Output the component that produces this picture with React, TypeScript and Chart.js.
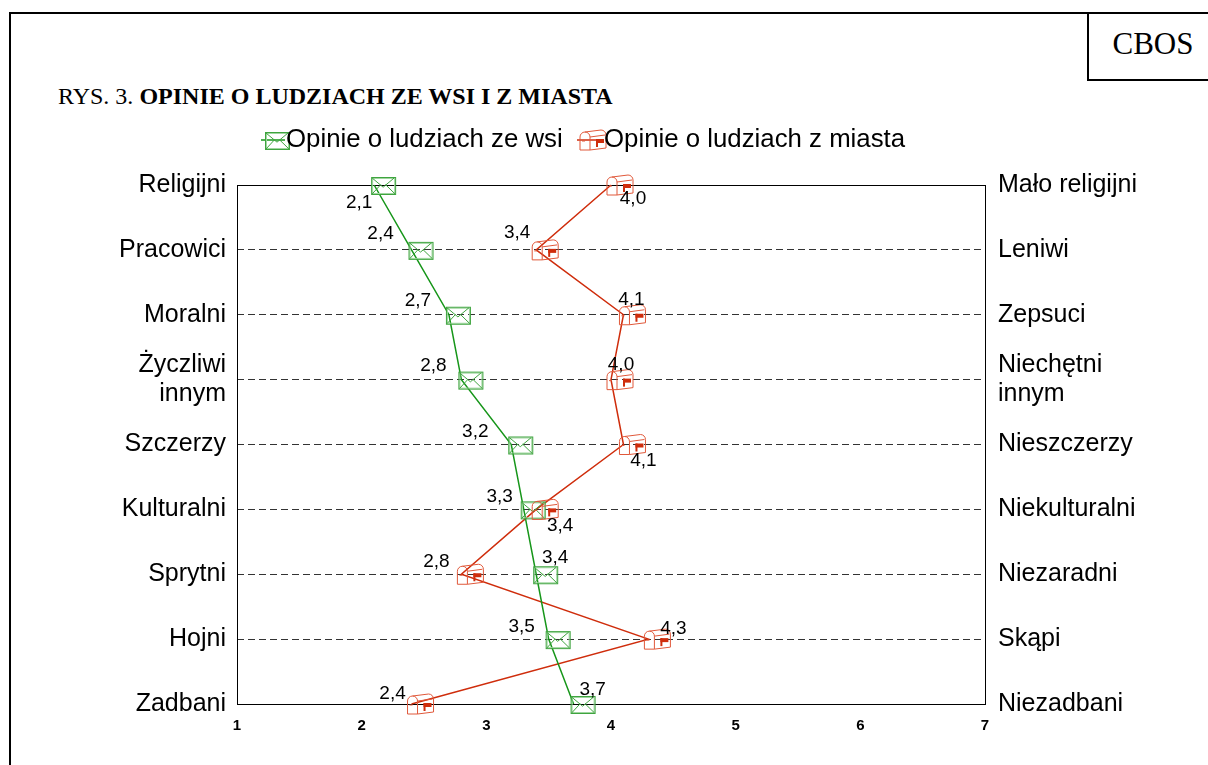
import React, { useEffect, useRef } from 'react';
import { Chart, registerables } from 'chart.js';

Chart.register(...registerables);

// ---- data ----
const leftLabels: (string | string[])[] = ['Religijni', 'Pracowici', 'Moralni', ['Życzliwi', 'innym'], 'Szczerzy', 'Kulturalni', 'Sprytni', 'Hojni', 'Zadbani'];
const rightLabels: (string | string[])[] = ['Mało religijni', 'Leniwi', 'Zepsuci', ['Niechętni', 'innym'], 'Nieszczerzy', 'Niekulturalni', 'Niezaradni', 'Skąpi', 'Niezadbani'];
const villageValues = [2.1, 2.4, 2.7, 2.8, 3.2, 3.3, 3.4, 3.5, 3.7];
const cityValues = [4.0, 3.4, 4.1, 4.0, 4.1, 3.4, 2.8, 4.3, 2.4];
const xTicks = [1, 2, 3, 4, 5, 6, 7];
const seriesNames = ['Opinie o ludziach ze wsi', 'Opinie o ludziach z miasta'];
const titlePrefix = 'RYS. 3. ';
const titleMain = 'OPINIE O LUDZIACH ZE WSI I Z MIASTA';
const brand = 'CBOS';

// label placement (text centre relative to the point)
const villageLabelOffsets = [[-15, 18], [-31, -16], [-31, -14], [-28, -14], [-36, -13], [-24, -13], [19, -16], [-27, -12], [19, -14]];
const cityLabelOffsets = [[22, 14], [-19, -17], [8, -15], [10, -15], [20, 16], [24, 16], [-25, -12], [25, -10], [-19, -10]];

const GREEN = '#17961a';
const GREEN_MARK = '#3fa43f';
const GREEN_LIGHT = '#9fd69f';
const RED = '#cf2d0c';
const RED_MARK = '#e0583a';
const SANS = '"Liberation Sans", Arial, sans-serif';

function drawEnvelope(ctx: CanvasRenderingContext2D, x: number, y: number) {
  const l = x - 3, t = y - 8, w = 24, h = 17;
  ctx.save();
  ctx.lineWidth = 1;
  ctx.strokeStyle = GREEN_LIGHT;
  ctx.strokeRect(l + 1.5, t + 1.5, w - 2, h - 2);
  ctx.strokeStyle = GREEN_MARK;
  ctx.strokeRect(l + 0.5, t + 0.5, w, h);
  ctx.beginPath();
  ctx.moveTo(l + 1, t + 1);
  ctx.lineTo(l + w / 2, t + h * 0.6);
  ctx.lineTo(l + w - 1, t + 1);
  ctx.moveTo(l + 1, t + h);
  ctx.lineTo(l + w * 0.4, t + h * 0.45);
  ctx.moveTo(l + w, t + h);
  ctx.lineTo(l + w * 0.6, t + h * 0.45);
  ctx.stroke();
  ctx.restore();
}

function drawMailbox(ctx: CanvasRenderingContext2D, x: number, y: number) {
  ctx.save();
  ctx.lineWidth = 1;
  ctx.strokeStyle = RED_MARK;
  ctx.beginPath();
  // front face
  ctx.moveTo(x - 4, y + 10);
  ctx.lineTo(x - 4, y - 3);
  ctx.arc(x + 1, y - 3, 5, Math.PI, 0);
  ctx.lineTo(x + 6, y + 10);
  ctx.closePath();
  // body
  ctx.moveTo(x + 1, y - 8);
  ctx.lineTo(x + 17, y - 10);
  ctx.arc(x + 17, y - 5, 5, -Math.PI / 2, 0);
  ctx.lineTo(x + 22, y + 8);
  ctx.lineTo(x + 6, y + 10);
  ctx.moveTo(x + 6, y - 3);
  ctx.lineTo(x + 21, y - 5);
  // slot
  ctx.moveTo(x - 2, y + 1);
  ctx.lineTo(x + 1, y + 1);
  ctx.stroke();
  // flag
  ctx.fillStyle = RED;
  ctx.fillRect(x + 12, y - 1, 8, 4);
  ctx.fillRect(x + 12, y - 1, 2, 8);
  ctx.restore();
}

export default function App() {
  const ref = useRef<HTMLCanvasElement>(null);

  useEffect(() => {
    const canvas = ref.current;
    if (!canvas) return;

    const decorPlugin = {
      id: 'decor',
      beforeDatasetsDraw(chart: any) {
        const { ctx, chartArea } = chart;
        ctx.save();
        ctx.strokeStyle = '#000';
        ctx.lineWidth = 1;
        ctx.setLineDash([]);
        ctx.strokeRect(Math.round(chartArea.left) + 0.5, Math.round(chartArea.top) + 0.5,
          Math.round(chartArea.right - chartArea.left), Math.round(chartArea.bottom - chartArea.top));
        ctx.restore();
      },
      afterDatasetsDraw(chart: any) {
        const { ctx } = chart;
        const metas = [chart.getDatasetMeta(0), chart.getDatasetMeta(1)];
        metas[0].data.forEach((p: any) => drawEnvelope(ctx, p.x, p.y));
        metas[1].data.forEach((p: any) => drawMailbox(ctx, p.x, p.y));
        ctx.save();
        ctx.fillStyle = '#000';
        ctx.font = `19px ${SANS}`;
        ctx.textAlign = 'center';
        ctx.textBaseline = 'middle';
        const fmt = (v: number) => v.toFixed(1).replace('.', ',');
        metas[0].data.forEach((p: any, i: number) => {
          const o = villageLabelOffsets[i];
          ctx.fillText(fmt(villageValues[i]), p.x + o[0], p.y + o[1]);
        });
        metas[1].data.forEach((p: any, i: number) => {
          const o = cityLabelOffsets[i];
          ctx.fillText(fmt(cityValues[i]), p.x + o[0], p.y + o[1]);
        });
        ctx.restore();
      },
      afterDraw(chart: any) {
        const { ctx } = chart;
        const ly = 140;
        ctx.save();
        ctx.lineWidth = 1.5;
        ctx.strokeStyle = GREEN;
        ctx.beginPath();
        ctx.moveTo(261, ly);
        ctx.lineTo(285, ly);
        ctx.stroke();
        drawEnvelope(ctx, 268, ly);
        ctx.strokeStyle = RED;
        ctx.beginPath();
        ctx.moveTo(577, ly);
        ctx.lineTo(598, ly);
        ctx.stroke();
        drawMailbox(ctx, 584, ly);
        ctx.fillStyle = '#000';
        ctx.font = `25.8px ${SANS}`;
        ctx.textAlign = 'left';
        ctx.textBaseline = 'middle';
        ctx.fillText(seriesNames[0], 286, ly);
        ctx.fillText(seriesNames[1], 604, ly);
        ctx.restore();
      },
    };

    const tickFont = { family: SANS, size: 25, lineHeight: 1.13 };

    const chart = new Chart(canvas, {
      type: 'line',
      data: {
        labels: leftLabels as any,
        datasets: [
          { label: seriesNames[0], data: villageValues, borderColor: GREEN, borderWidth: 1.5, pointRadius: 0, fill: false, tension: 0 },
          { label: seriesNames[1], data: cityValues, borderColor: RED, borderWidth: 1.5, pointRadius: 0, fill: false, tension: 0 },
        ],
      },
      options: {
        indexAxis: 'y',
        responsive: false,
        animation: false,
        layout: { padding: { top: 185, left: 0, right: 0, bottom: 0 } },
        plugins: { legend: { display: false }, tooltip: { enabled: false } },
        scales: {
          x: {
            type: 'linear',
            position: 'bottom',
            min: 1,
            max: 7,
            afterBuildTicks: (s: any) => { s.ticks = xTicks.map((v) => ({ value: v })); },
            grid: { display: false, drawTicks: false },
            border: { display: false },
            ticks: { padding: 13, color: '#000', font: { family: SANS, size: 15, weight: 'bold' } },
            afterFit: (s: any) => { s.height = 61; },
          },
          y: {
            type: 'category',
            position: 'left',
            offset: false,
            grid: { color: '#333', lineWidth: 1, drawTicks: false },
            border: { display: false, dash: [7, 4] },
            ticks: { padding: 11, color: '#000', font: tickFont },
            afterFit: (s: any) => { s.width = 237; },
          },
          y2: {
            type: 'category',
            position: 'right',
            labels: rightLabels as any,
            offset: false,
            grid: { display: false, drawTicks: false },
            border: { display: false },
            ticks: { padding: 13, color: '#000', font: tickFont },
            afterFit: (s: any) => { s.width = 223; },
          },
        } as any,
      },
      plugins: [decorPlugin],
    });

    return () => chart.destroy();
  }, []);

  return (
    <div style={{ position: 'absolute', left: 0, top: 0, width: 1208, height: 765, overflow: 'hidden', background: '#fff' }}>
      <div style={{ position: 'absolute', left: 9, top: 12, width: 1400, height: 1000, border: '2px solid #000', boxSizing: 'border-box' }} />
      <div style={{ position: 'absolute', left: 1087, top: 12, width: 200, height: 69, borderLeft: '2px solid #000', borderBottom: '2px solid #000', boxSizing: 'border-box' }} />
      <div style={{ position: 'absolute', left: 1090, top: 28, width: 126, textAlign: 'center', fontFamily: '"Liberation Serif", "Times New Roman", serif', fontSize: 31, lineHeight: '31px', color: '#000' }}>{brand}</div>
      <div style={{ position: 'absolute', left: 58, top: 84, whiteSpace: 'nowrap', fontFamily: '"Liberation Serif", "Times New Roman", serif', fontSize: 24, lineHeight: '24px', color: '#000' }}>
        {titlePrefix}<b>{titleMain}</b>
      </div>
      <canvas ref={ref} width={1208} height={765} style={{ position: 'absolute', left: 0, top: 0, width: 1208, height: 765 }} />
    </div>
  );
}
